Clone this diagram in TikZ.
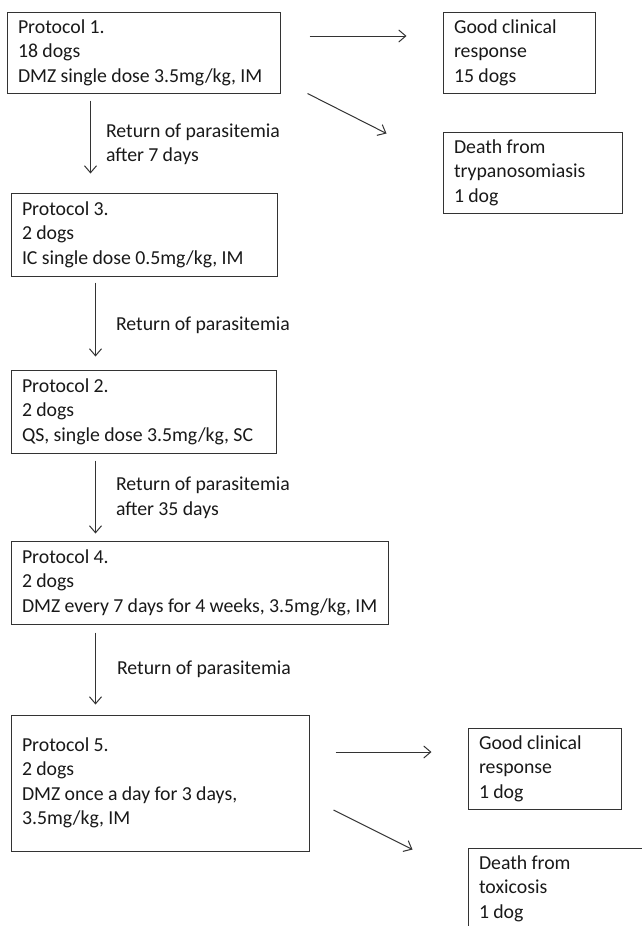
\documentclass[tikz,border=0pt]{standalone}
\usepackage{fontspec}
\setmainfont{Carlito}
\usetikzlibrary{arrows.meta}
\tikzset{
	protobox/.style={draw=black!80, line width=1pt, text=black!90, align=left, inner xsep=11pt, inner ysep=0pt, font=\fontsize{19.8}{24.5}\selectfont, execute at begin node={\spaceskip=4.3pt\relax}},
	flow/.style={draw=black!80, line width=1pt, -{Straight Barb[length=7pt,width=12pt]}},
	flowlabel/.style={text=black!90, align=left, anchor=west, inner sep=0pt, font=\fontsize{19.8}{24.5}\selectfont, execute at begin node={\spaceskip=4.3pt\relax}}
}
\begin{document}
\begin{tikzpicture}[x=1pt, y=-1pt]
	\clip (0,0) rectangle (642,926);
	% protocols
	\node[protobox, text width=251pt, minimum height=81pt] (p1) at (143.5,52.5) {Protocol 1.\\18 dogs\\\mbox{DMZ single dose 3.5mg/kg, IM}};
	\node[protobox, text width=244pt, minimum height=83pt] (p3) at (144,234.5) {Protocol 3.\\2 dogs\\IC single dose 0.5mg/kg, IM};
	\node[protobox, text width=243pt, minimum height=83pt] (p2) at (143.5,411.5) {Protocol 2.\\2 dogs\\QS, single dose 3.5mg/kg, SC};
	\node[protobox, text width=355pt, minimum height=83pt] (p4) at (199.5,582.5) {Protocol 4.\\2 dogs\\\mbox{DMZ every 7 days for 4 weeks, 3.5mg/kg, IM}};
	\node[protobox, text width=276pt, minimum height=136pt] (p5) at (160,783) {Protocol 5.\\2 dogs\\DMZ once a day for 3 days,\\3.5mg/kg, IM};
	% outcomes
	\node[protobox, text width=130pt, minimum height=81pt] (good1) at (519,52.5) {Good clinical\\response\\15 dogs};
	\node[protobox, text width=157pt, minimum height=81pt] (death1) at (532.5,172.5) {Death from\\trypanosomiasis\\1 dog};
	\node[protobox, text width=131pt, minimum height=81pt] (good2) at (544.5,768.5) {Good clinical\\response\\1 dog};
	\node[protobox, text width=158pt, minimum height=81pt] (tox) at (558,888.5) {Death from\\toxicosis\\1 dog};
	% down the chain
	\draw[flow, shorten <=7pt, shorten >=19pt] ([xshift=84pt]p1.south west) -- ([xshift=80pt]p3.north west)
		node[flowlabel, midway, xshift=15pt, yshift=-1.5pt] {Return of parasitemia\\after 7 days};
	\draw[flow, shorten <=6pt, shorten >=13pt] ([xshift=85pt]p3.south west) -- ([xshift=85pt]p2.north west)
		node[flowlabel, midway, xshift=20pt, yshift=-2.5pt] {Return of parasitemia};
	\draw[flow, shorten <=7pt, shorten >=7pt] ([xshift=85pt]p2.south west) -- ([xshift=85pt]p4.north west)
		node[flowlabel, midway, xshift=20pt, yshift=-1pt] {Return of parasitemia\\after 35 days};
	\draw[flow, shorten <=8pt, shorten >=10pt] ([xshift=85pt]p4.south west) -- ([xshift=85pt]p5.north west)
		node[flowlabel, midway, xshift=21pt] {Return of parasitemia};
	% outcomes of protocol 1 and 5
	\draw[flow, shorten <=29pt, shorten >=36pt] ([yshift=16.5pt]p1.east) -- ([yshift=16.5pt]good1.west);
	\draw[flow] ([xshift=27pt]p1.south east) -- ([xshift=-56pt, yshift=-2pt]death1.north west);
	\draw[flow, shorten <=26pt, shorten >=36pt] ([yshift=31pt]p5.east) -- ([yshift=16.5pt]good2.west);
	\draw[flow] ([xshift=24pt, yshift=-27pt]p5.east) -- ([xshift=-55pt, yshift=-2pt]tox.north west);
\end{tikzpicture}
\end{document}
